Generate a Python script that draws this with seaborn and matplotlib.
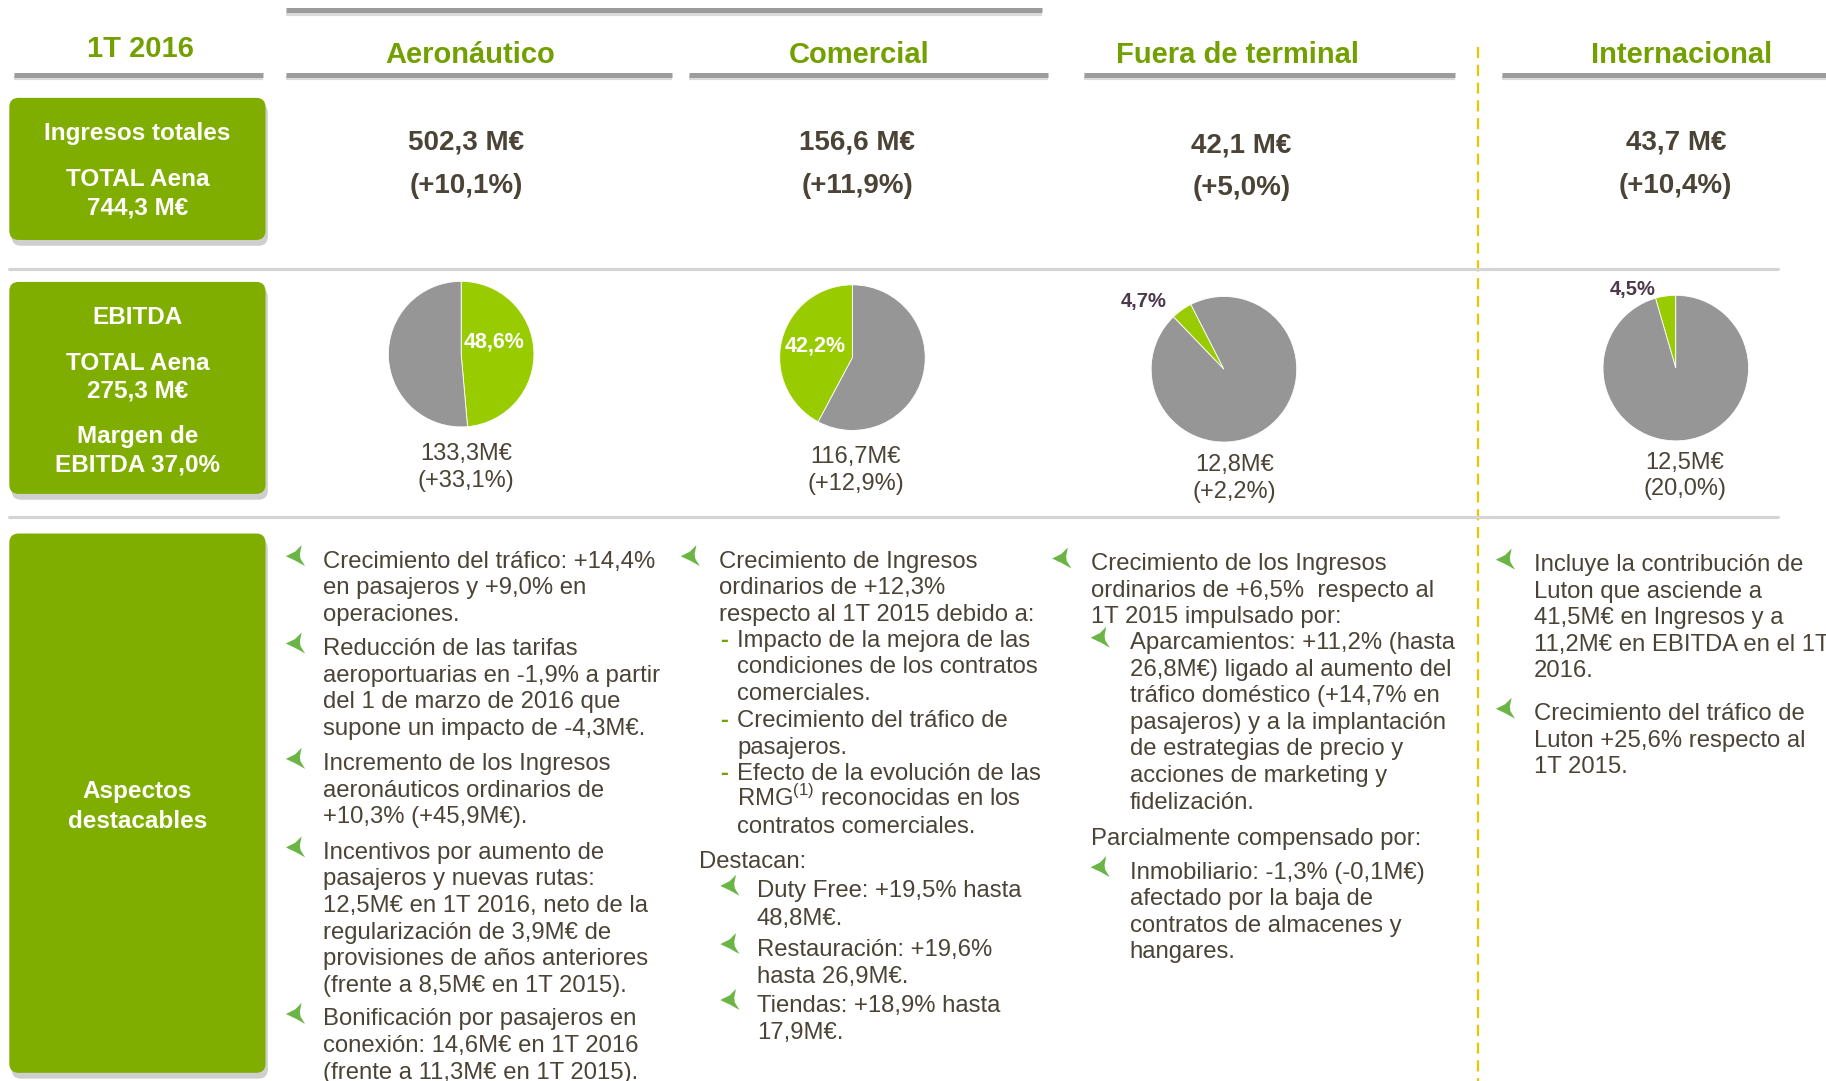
import numpy as np
import matplotlib
matplotlib.use("Agg")
import matplotlib.pyplot as plt
import seaborn as sns
from matplotlib.patches import FancyBboxPatch, Polygon

sns.set_theme(style="white")
plt.rcParams['font.family'] = ['Liberation Sans', 'DejaVu Sans']
plt.rcParams['mathtext.fontset'] = 'custom'
plt.rcParams['mathtext.rm'] = 'Liberation Sans'

# ---- data -------------------------------------------------------------
periodo = '1T 2016'
segmentos = ['Aeronáutico', 'Comercial', 'Fuera de terminal', 'Internacional']
ingresos = ['502,3 M€', '156,6 M€', '42,1 M€', '43,7 M€']
ingresos_var = ['(+10,1%)', '(+11,9%)', '(+5,0%)', '(+10,4%)']
ebitda_pct = [48.6, 42.2, 4.7, 4.5]
ebitda_pct_txt = ['48,6%', '42,2%', '4,7%', '4,5%']
ebitda_val = ['133,3M€', '116,7M€', '12,8M€', '12,5M€']
ebitda_var = ['(+33,1%)', '(+12,9%)', '(+2,2%)', '(20,0%)']
box_ingresos = ['Ingresos totales', 'TOTAL Aena', '744,3 M€']
box_ebitda = ['EBITDA', 'TOTAL Aena', '275,3 M€', 'Margen de', 'EBITDA 37,0%']
box_aspectos = ['Aspectos', 'destacables']

aero_txt = [
    ['Crecimiento del tráfico: +14,4%', 'en pasajeros y +9,0% en', 'operaciones.'],
    ['Reducción de las tarifas', 'aeroportuarias en -1,9% a partir',
     'del 1 de marzo de 2016 que', 'supone un impacto de -4,3M€.'],
    ['Incremento de los Ingresos', 'aeronáuticos ordinarios de', '+10,3% (+45,9M€).'],
    ['Incentivos por aumento de', 'pasajeros y nuevas rutas:',
     '12,5M€ en 1T 2016, neto de la', 'regularización de 3,9M€ de',
     'provisiones de años anteriores', '(frente a 8,5M€ en 1T 2015).'],
    ['Bonificación por pasajeros en', 'conexión: 14,6M€ en 1T 2016',
     '(frente a 11,3M€ en 1T 2015).'],
]
com_txt = [
    ('arrow', ['Crecimiento de Ingresos', 'ordinarios de +12,3%', 'respecto al 1T 2015 debido a:']),
    ('dash', ['Impacto de la mejora de las', 'condiciones de los contratos', 'comerciales.']),
    ('dash', ['Crecimiento del tráfico de', 'pasajeros.']),
    ('dash', ['Efecto de la evolución de las', r'RMG$^{(1)}$ reconocidas en los',
              'contratos comerciales.']),
    ('plain', ['Destacan:']),
    ('sub', ['Duty Free: +19,5% hasta', '48,8M€.']),
    ('sub', ['Restauración: +19,6%', 'hasta 26,9M€.']),
    ('sub', ['Tiendas: +18,9% hasta', '17,9M€.']),
]
fuera_txt = [
    ('arrow', ['Crecimiento de los Ingresos', 'ordinarios de +6,5%  respecto al',
               '1T 2015 impulsado por:']),
    ('sub', ['Aparcamientos: +11,2% (hasta', '26,8M€) ligado al aumento del',
             'tráfico doméstico (+14,7% en', 'pasajeros) y a la implantación',
             'de estrategias de precio y', 'acciones de marketing y', 'fidelización.']),
    ('plain', ['Parcialmente compensado por:']),
    ('sub', ['Inmobiliario: -1,3% (-0,1M€)', 'afectado por la baja de',
             'contratos de almacenes y', 'hangares.']),
]
inter_txt = [
    ['Incluye la contribución de', 'Luton que asciende a', '41,5M€ en Ingresos y a',
     '11,2M€ en EBITDA en el 1T', '2016.'],
    ['Crecimiento del tráfico de', 'Luton +25,6% respecto al', '1T 2015.'],
]

# ---- style ------------------------------------------------------------
GREEN_BOX = '#80ae00'
GREEN_HEAD = '#72a000'
GREEN_PIE = '#99cc00'
GREY_PIE = '#969696'
ARROW = '#6ab545'
TXT = '#4a4336'
PURPLE = '#4b3a4b'
W, H = 1568, 928

fig = plt.figure(figsize=(18.26, 10.81), dpi=100)
ax = fig.add_axes([0, 0, 1, 1])
ax.set_xlim(0, W)
ax.set_ylim(H, 0)
ax.axis('off')
ax.set_zorder(5)
ax.patch.set_visible(False)


def em(pt):
    return pt / 0.72 / 1.1645


def label(x, y, s, size, color=TXT, weight='normal', ha='center'):
    ax.text(x, y + 0.358 * em(size), s, fontsize=size, color=color,
            fontweight=weight, ha=ha, va='baseline')


def green_box(x0, y0, x1, y1, lines, ys):
    ax.add_patch(FancyBboxPatch((x0 + 2, y0 + 5), x1 - x0, y1 - y0,
                                boxstyle='round,pad=0,rounding_size=8',
                                fc='#b0b0b0', ec='none', alpha=0.6))
    ax.add_patch(FancyBboxPatch((x0, y0), x1 - x0, y1 - y0,
                                boxstyle='round,pad=0,rounding_size=8',
                                fc=GREEN_BOX, ec='none'))
    for s, y in zip(lines, ys):
        label((x0 + x1) / 2, y, s, 17.5, 'white', 'bold')


def head_line(x0, x1, y):
    ax.plot([x0, x1], [y + 3, y + 3], color='#dadada', lw=3, solid_capstyle='butt')
    ax.plot([x0, x1], [y, y], color='#9c9c9c', lw=3.6, solid_capstyle='butt')


# concave three-point arrowhead pointing left
ARROW_SHAPE = np.array([[-9.5, -2.5], [-1.5, -6.5], [4, -12], [2.5, -4.5],
                        [3.0, -0.5], [4.5, 2.0], [7, 6], [-1, 1.5]])


def arrow(x, y):
    ax.add_patch(Polygon(ARROW_SHAPE + [x, y], closed=True, fc=ARROW, ec='none'))


# ---- header -------------------------------------------------------------
head_line(246, 895, 9)
label(121, 40, periodo, 21, GREEN_HEAD, 'bold')
head_line(12, 226, 64)
head_x = [404, 738, 1063, 1444]
head_spans = [(246, 577), (592, 900), (931, 1249), (1290, 1568)]
for s, cx, (a, b) in zip(segmentos, head_x, head_spans):
    label(cx, 45, s, 21, GREEN_HEAD, 'bold')
    head_line(a, b, 64)

ax.plot([1269, 1269], [40, H], color='#e6c700', lw=1.6, ls=(0, (5, 3)))

# ---- ingresos row -------------------------------------------------------
green_box(8, 84, 228, 206, box_ingresos, [113, 152, 177])
val_x = [400, 736, 1066, 1439]
val_y = [120, 120, 122, 120]
for s, v, cx, cy in zip(ingresos, ingresos_var, val_x, val_y):
    label(cx, cy, s, 20, TXT, 'bold')
    label(cx, cy + 37, v, 20, TXT, 'bold')

ax.plot([8, 1527], [231, 231], color='#d4d4d4', lw=2.2)
ax.plot([8, 1527], [444, 444], color='#d4d4d4', lw=2.2)

# ---- EBITDA row ---------------------------------------------------------
green_box(8, 242, 228, 424, box_ebitda, [271, 310, 334, 373, 397])
pie_c = [(396, 304), (732, 307), (1051, 317), (1439, 316)]
pie_r = 62.5
pie_start = [90, 90, 117, 90]
pie_ccw = [False, True, True, True]
pct_pos = [(424, 292), (700, 295), (982, 257), (1402, 247)]
sub_x = [400, 735, 1060, 1447]
sub_y = [388, 390, 397, 395]
for i in range(4):
    cx, cy = pie_c[i]
    pax = fig.add_axes([(cx - pie_r) / W, 1 - (cy + pie_r) / H, 2 * pie_r / W, 2 * pie_r / H])
    pax.pie([ebitda_pct[i], 100 - ebitda_pct[i]], colors=[GREEN_PIE, GREY_PIE],
            startangle=pie_start[i], counterclock=pie_ccw[i],
            wedgeprops=dict(linewidth=0.6, edgecolor='white'))
    pax.set_xlim(-1, 1)
    pax.set_ylim(-1, 1)
    pax.axis('off')
    px_, py_ = pct_pos[i]
    if i < 2:
        label(px_, py_, ebitda_pct_txt[i], 15.5, 'white', 'bold')
    else:
        label(px_, py_, ebitda_pct_txt[i], 14.5, PURPLE, 'bold')
    label(sub_x[i], sub_y[i], ebitda_val[i], 17)
    label(sub_x[i], sub_y[i] + 23, ebitda_var[i], 17)

# ---- aspectos destacables ---------------------------------------------------
green_box(8, 458, 228, 921, box_aspectos, [678, 703])
STEP = 22.8
BODY = 17.2

y0s = [480, 555, 654, 730, 873]
for lines, y0 in zip(aero_txt, y0s):
    arrow(255, y0)
    for k, s in enumerate(lines):
        label(277, y0 + k * STEP, s, BODY, ha='left')

com_y0 = [480, 548, 617, 662, 738, 763, 813, 861]
for (kind, lines), y0 in zip(com_txt, com_y0):
    if kind == 'arrow':
        arrow(594, y0)
        tx = 617
    elif kind == 'dash':
        label(622, y0, '-', BODY, GREEN_HEAD, 'bold')
        tx = 633
    elif kind == 'plain':
        tx = 600
    else:
        arrow(628, y0)
        tx = 650
    step = 23.5 if kind == 'sub' else STEP
    for k, s in enumerate(lines):
        label(tx, y0 + k * step, s, BODY, ha='left')

fuera_y0 = [482, 550, 718, 747]
for (kind, lines), y0 in zip(fuera_txt, fuera_y0):
    if kind == 'arrow':
        arrow(913, y0)
        tx = 937
    elif kind == 'plain':
        tx = 937
    else:
        arrow(946, y0)
        tx = 970
    for k, s in enumerate(lines):
        label(tx, y0 + k * STEP, s, BODY, ha='left')

for lines, y0 in zip(inter_txt, [483, 611]):
    arrow(1294, y0)
    for k, s in enumerate(lines):
        label(1317, y0 + k * STEP, s, BODY, ha='left')

fig.savefig('out.png', dpi=100)
